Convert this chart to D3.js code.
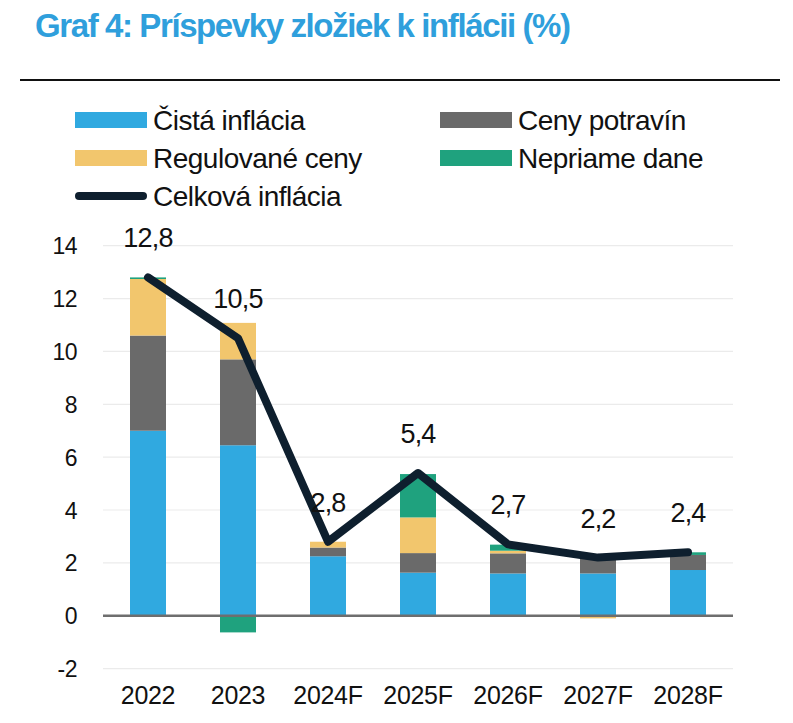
<!DOCTYPE html>
<html><head><meta charset="utf-8">
<script src="https://cdn.jsdelivr.net/npm/d3@7/dist/d3.min.js"></script>
<style>body{margin:0;background:#fff}svg{display:block}</style>
</head><body><svg id="c" width="793" height="723"></svg>
<script>
const categories = ["2022","2023","2024F","2025F","2026F","2027F","2028F"];
const coreInfl   = [7.0, 6.45, 2.25, 1.63, 1.6, 1.6, 1.73];
const foodPrices = [3.6, 3.25, 0.33, 0.74, 0.76, 0.7, 0.57];
const regulated  = [2.14, 1.38, 0.22, 1.35, 0.1, -0.1, 0.0];
const taxes      = [0.06, -0.63, 0.0, 1.64, 0.23, 0.0, 0.1];
const totalInfl  = [12.8, 10.5, 2.8, 5.4, 2.7, 2.2, 2.4];
const totalLabels = ["12,8","10,5","2,8","5,4","2,7","2,2","2,4"];
const yTicks = [-2,0,2,4,6,8,10,12,14];
const seriesNames = ["Čistá inflácia","Ceny potravín","Regulované ceny","Nepriame dane","Celková inflácia"];
const colors = ["#30a9e0","#6a6a6a","#f2c66d","#1fa27e","#0e1f2e"];

const svg = d3.select("#c");
const font = "'Liberation Sans', Arial, sans-serif";

svg.append("text").attr("x",35).attr("y",37).text("Graf 4: Príspevky zložiek k inflácii (%)")
  .attr("font-family",font).attr("font-weight","bold").attr("font-size",33)
  .attr("letter-spacing","-1.4px").attr("fill","#2f9fdc");
svg.append("line").attr("x1",20).attr("x2",780).attr("y1",80).attr("y2",80).attr("stroke","#111").attr("stroke-width",2);

const x = d3.scaleBand().domain(categories).range([103,733]).paddingInner(0.6).paddingOuter(0.3);
const y = d3.scaleLinear().domain([-2,14]).range([668.6,245.7]);

// grid
svg.append("g").selectAll("line").data(yTicks.filter(t=>t!==0)).join("line")
  .attr("x1",103).attr("x2",733).attr("y1",d=>y(d)).attr("y2",d=>y(d))
  .attr("stroke","#ebebeb").attr("stroke-width",1.2);

const yAxis = svg.append("g").attr("transform","translate(77,0)")
  .call(d3.axisLeft(y).tickValues(yTicks).tickSize(0).tickPadding(0).tickFormat(d=>String(d)));
yAxis.select(".domain").remove();
yAxis.selectAll("text").attr("font-family",font).attr("font-size",23).attr("fill","#111").attr("letter-spacing","-0.5px").attr("dy","0.35em");

// stacks (positive and negative separately)
const series = [coreInfl, foodPrices, regulated, taxes];
const bars = [];
categories.forEach((c,i)=>{
  let pos=0, neg=0;
  series.forEach((s,k)=>{
    const v=s[i];
    if(v>=0){bars.push({c,k,y0:pos,y1:pos+v});pos+=v;}
    else {bars.push({c,k,y0:neg+v,y1:neg});neg+=v;}
  });
});
svg.append("g").selectAll("rect").data(bars.filter(b=>b.y1!==b.y0)).join("rect")
  .attr("x",d=>x(d.c)).attr("width",x.bandwidth())
  .attr("y",d=>y(d.y1)).attr("height",d=>y(d.y0)-y(d.y1))
  .attr("fill",d=>colors[d.k]);

// zero line
svg.append("line").attr("x1",103).attr("x2",733).attr("y1",y(0)).attr("y2",y(0)).attr("stroke","#6e6e6e").attr("stroke-width",2.5);

// x axis labels
const xAxis = svg.append("g").attr("transform",`translate(0,${y(0)})`)
  .call(d3.axisBottom(x).tickSize(0).tickPadding(71));
xAxis.select(".domain").remove();
xAxis.selectAll("text").attr("font-family",font).attr("font-size",25).attr("fill","#111").attr("letter-spacing","-0.3px");

// total line
const line = d3.line().x((d,i)=>x(categories[i])+x.bandwidth()/2).y(d=>y(d));
svg.append("path").datum(totalInfl).attr("d",line).attr("fill","none")
  .attr("stroke",colors[4]).attr("stroke-width",8).attr("stroke-linejoin","round").attr("stroke-linecap","round");

svg.append("g").selectAll("text").data(totalInfl).join("text")
  .attr("x",(d,i)=>x(categories[i])+x.bandwidth()/2).attr("y",d=>y(d)-30)
  .attr("text-anchor","middle").text((d,i)=>totalLabels[i])
  .attr("font-family",font).attr("font-size",27).attr("letter-spacing","-0.8px").attr("fill","#111");

// legend
const leg = [
  {n:0,x:75,y:120,type:"rect"},{n:1,x:440,y:120,type:"rect"},
  {n:2,x:75,y:158,type:"rect"},{n:3,x:440,y:158,type:"rect"},
  {n:4,x:75,y:196,type:"line"}];
const lg = svg.append("g").selectAll("g").data(leg).join("g").attr("transform",d=>`translate(${d.x},${d.y})`);
lg.filter(d=>d.type==="rect").append("rect").attr("x",0).attr("y",-8).attr("width",72).attr("height",16).attr("fill",d=>colors[d.n]);
lg.filter(d=>d.type==="line").append("line").attr("x1",4).attr("x2",68).attr("y1",0).attr("y2",0)
  .attr("stroke",colors[4]).attr("stroke-width",8).attr("stroke-linecap","round");
lg.append("text").attr("x",78).attr("y",0).attr("dy","0.35em").text(d=>seriesNames[d.n])
  .attr("font-family",font).attr("font-size",28).attr("letter-spacing","-0.5px").attr("fill","#111");
</script></body></html>
